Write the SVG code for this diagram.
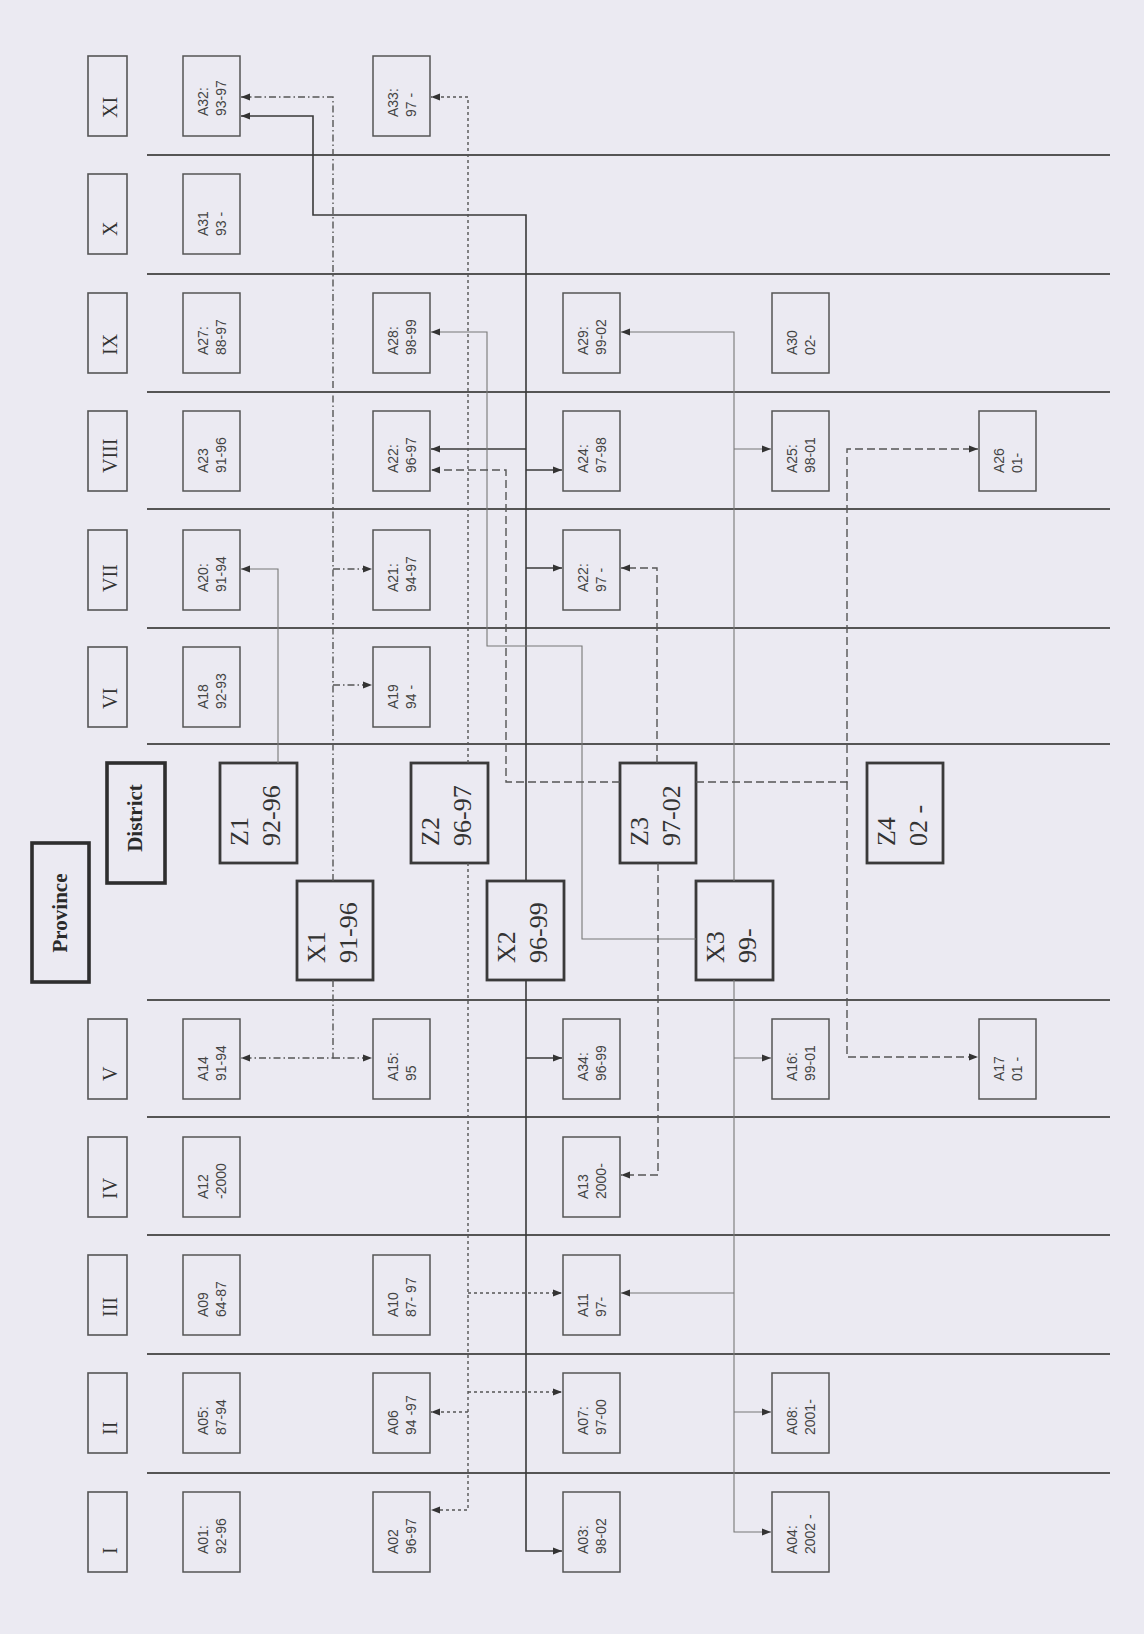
<svg xmlns="http://www.w3.org/2000/svg" width="1144" height="1634" viewBox="0 0 1144 1634">
<style>
.bg{fill:#ebeaf2}
.sep{stroke:#555;stroke-width:2;fill:none}
.hb{fill:none;stroke:#555;stroke-width:1.6}
.ab{fill:none;stroke:#555;stroke-width:1.5}
.big{fill:none;stroke:#3a3a3a;stroke-width:2.8}
.lvl{fill:none;stroke:#2e2e2e;stroke-width:3.6}
.ht{font-family:"Liberation Serif",serif;font-size:20px;fill:#333}
.at{font-family:"Liberation Sans",sans-serif;font-size:14px;fill:#444}
.bt{font-family:"Liberation Serif",serif;font-size:26px;fill:#333}
.lt{font-family:"Liberation Serif",serif;font-size:21px;font-weight:bold;fill:#2a2a2a;text-anchor:middle}
.solid{fill:none;stroke:#3a3a3a;stroke-width:1.6;marker-end:url(#ah)}
.thin{fill:none;stroke:#777;stroke-width:1.1;marker-end:url(#ah)}
.dd{fill:none;stroke:#555;stroke-width:1.4;stroke-dasharray:7 3 1.5 3;marker-end:url(#ah)}
.dot{fill:none;stroke:#555;stroke-width:1.4;stroke-dasharray:3 3;marker-end:url(#ah)}
.dash{fill:none;stroke:#555;stroke-width:1.4;stroke-dasharray:8 4;marker-end:url(#ah)}
</style>
<defs>
<marker id="ah" viewBox="0 0 10 10" refX="10" refY="5" markerWidth="9" markerHeight="9" markerUnits="userSpaceOnUse" orient="auto">
<path d="M0,1 L10,5 L0,9 z" fill="#333"/>
</marker>
</defs>
<rect class="bg" x="0" y="0" width="1144" height="1634"/>

<g id="separators">
<path class="sep" d="M147,155H1110M147,274H1110M147,392H1110M147,509H1110M147,628H1110M147,744H1110M147,1000H1110M147,1117H1110M147,1235H1110M147,1354H1110M147,1473H1110"/>
</g>

<g id="headers">
<g id="h-XI"><rect class="hb" x="88" y="56" width="39" height="80"/><text class="ht" transform="translate(117,118) rotate(-90)">XI</text></g>
<g id="h-X"><rect class="hb" x="88" y="174" width="39" height="80"/><text class="ht" transform="translate(117,236) rotate(-90)">X</text></g>
<g id="h-IX"><rect class="hb" x="88" y="293" width="39" height="80"/><text class="ht" transform="translate(117,355) rotate(-90)">IX</text></g>
<g id="h-VIII"><rect class="hb" x="88" y="411" width="39" height="80"/><text class="ht" transform="translate(117,473) rotate(-90)">VIII</text></g>
<g id="h-VII"><rect class="hb" x="88" y="530" width="39" height="80"/><text class="ht" transform="translate(117,592) rotate(-90)">VII</text></g>
<g id="h-VI"><rect class="hb" x="88" y="647" width="39" height="80"/><text class="ht" transform="translate(117,709) rotate(-90)">VI</text></g>
<g id="h-V"><rect class="hb" x="88" y="1019" width="39" height="80"/><text class="ht" transform="translate(117,1081) rotate(-90)">V</text></g>
<g id="h-IV"><rect class="hb" x="88" y="1137" width="39" height="80"/><text class="ht" transform="translate(117,1199) rotate(-90)">IV</text></g>
<g id="h-III"><rect class="hb" x="88" y="1255" width="39" height="80"/><text class="ht" transform="translate(117,1317) rotate(-90)">III</text></g>
<g id="h-II"><rect class="hb" x="88" y="1373" width="39" height="80"/><text class="ht" transform="translate(117,1435) rotate(-90)">II</text></g>
<g id="h-I"><rect class="hb" x="88" y="1492" width="39" height="80"/><text class="ht" transform="translate(117,1554) rotate(-90)">I</text></g>
</g>

<g id="levels">
<g id="province"><rect class="lvl" x="32" y="843" width="57" height="139"/><text class="lt" transform="translate(67,913) rotate(-90)">Province</text></g>
<g id="district"><rect class="lvl" x="107" y="763" width="58" height="120"/><text class="lt" transform="translate(142,818) rotate(-90)">District</text></g>
</g>

<g id="A32"><rect class="ab" x="183" y="56" width="57" height="80"/><text class="at" transform="translate(208,116) rotate(-90)">A32:</text><text class="at" transform="translate(226,116) rotate(-90)">93-97</text></g>
<g id="A33"><rect class="ab" x="373" y="56" width="57" height="80"/><text class="at" transform="translate(398,117) rotate(-90)">A33:</text><text class="at" transform="translate(416,117) rotate(-90)">97 -</text></g>
<g id="A31"><rect class="ab" x="183" y="174" width="57" height="80"/><text class="at" transform="translate(208,236) rotate(-90)">A31</text><text class="at" transform="translate(226,236) rotate(-90)">93 -</text></g>
<g id="A27"><rect class="ab" x="183" y="293" width="57" height="80"/><text class="at" transform="translate(208,355) rotate(-90)">A27:</text><text class="at" transform="translate(226,355) rotate(-90)">88-97</text></g>
<g id="A28"><rect class="ab" x="373" y="293" width="57" height="80"/><text class="at" transform="translate(398,355) rotate(-90)">A28:</text><text class="at" transform="translate(416,355) rotate(-90)">98-99</text></g>
<g id="A29"><rect class="ab" x="563" y="293" width="57" height="80"/><text class="at" transform="translate(588,355) rotate(-90)">A29:</text><text class="at" transform="translate(606,355) rotate(-90)">99-02</text></g>
<g id="A30"><rect class="ab" x="772" y="293" width="57" height="80"/><text class="at" transform="translate(797,355) rotate(-90)">A30</text><text class="at" transform="translate(815,355) rotate(-90)">02-</text></g>
<g id="A23"><rect class="ab" x="183" y="411" width="57" height="80"/><text class="at" transform="translate(208,473) rotate(-90)">A23</text><text class="at" transform="translate(226,473) rotate(-90)">91-96</text></g>
<g id="A22a"><rect class="ab" x="373" y="411" width="57" height="80"/><text class="at" transform="translate(398,473) rotate(-90)">A22:</text><text class="at" transform="translate(416,473) rotate(-90)">96-97</text></g>
<g id="A24"><rect class="ab" x="563" y="411" width="57" height="80"/><text class="at" transform="translate(588,473) rotate(-90)">A24:</text><text class="at" transform="translate(606,473) rotate(-90)">97-98</text></g>
<g id="A25"><rect class="ab" x="772" y="411" width="57" height="80"/><text class="at" transform="translate(797,473) rotate(-90)">A25:</text><text class="at" transform="translate(815,473) rotate(-90)">98-01</text></g>
<g id="A26"><rect class="ab" x="979" y="411" width="57" height="80"/><text class="at" transform="translate(1004,473) rotate(-90)">A26</text><text class="at" transform="translate(1022,473) rotate(-90)">01-</text></g>
<g id="A20"><rect class="ab" x="183" y="530" width="57" height="80"/><text class="at" transform="translate(208,592) rotate(-90)">A20:</text><text class="at" transform="translate(226,592) rotate(-90)">91-94</text></g>
<g id="A21"><rect class="ab" x="373" y="530" width="57" height="80"/><text class="at" transform="translate(398,592) rotate(-90)">A21:</text><text class="at" transform="translate(416,592) rotate(-90)">94-97</text></g>
<g id="A22b"><rect class="ab" x="563" y="530" width="57" height="80"/><text class="at" transform="translate(588,592) rotate(-90)">A22:</text><text class="at" transform="translate(606,592) rotate(-90)">97 -</text></g>
<g id="A18"><rect class="ab" x="183" y="647" width="57" height="80"/><text class="at" transform="translate(208,709) rotate(-90)">A18</text><text class="at" transform="translate(226,709) rotate(-90)">92-93</text></g>
<g id="A19"><rect class="ab" x="373" y="647" width="57" height="80"/><text class="at" transform="translate(398,709) rotate(-90)">A19</text><text class="at" transform="translate(416,709) rotate(-90)">94 -</text></g>

<g id="Z1"><rect class="big" x="220" y="763" width="77" height="100"/><text class="bt" transform="translate(248,846) rotate(-90)">Z1</text><text class="bt" transform="translate(280,846) rotate(-90)">92-96</text></g>
<g id="Z2"><rect class="big" x="411" y="763" width="77" height="100"/><text class="bt" transform="translate(439,846) rotate(-90)">Z2</text><text class="bt" transform="translate(471,846) rotate(-90)">96-97</text></g>
<g id="Z3"><rect class="big" x="620" y="763" width="76" height="100"/><text class="bt" transform="translate(648,846) rotate(-90)">Z3</text><text class="bt" transform="translate(680,846) rotate(-90)">97-02</text></g>
<g id="Z4"><rect class="big" x="867" y="763" width="76" height="100"/><text class="bt" transform="translate(895,846) rotate(-90)">Z4</text><text class="bt" transform="translate(927,846) rotate(-90)">02 -</text></g>
<g id="X1"><rect class="big" x="297" y="881" width="76" height="99"/><text class="bt" transform="translate(325,963) rotate(-90)">X1</text><text class="bt" transform="translate(357,963) rotate(-90)">91-96</text></g>
<g id="X2"><rect class="big" x="487" y="881" width="77" height="99"/><text class="bt" transform="translate(515,963) rotate(-90)">X2</text><text class="bt" transform="translate(547,963) rotate(-90)">96-99</text></g>
<g id="X3"><rect class="big" x="696" y="881" width="77" height="99"/><text class="bt" transform="translate(724,963) rotate(-90)">X3</text><text class="bt" transform="translate(756,963) rotate(-90)">99-</text></g>

<g id="A14"><rect class="ab" x="183" y="1019" width="57" height="80"/><text class="at" transform="translate(208,1081) rotate(-90)">A14</text><text class="at" transform="translate(226,1081) rotate(-90)">91-94</text></g>
<g id="A15"><rect class="ab" x="373" y="1019" width="57" height="80"/><text class="at" transform="translate(398,1081) rotate(-90)">A15:</text><text class="at" transform="translate(416,1081) rotate(-90)">95</text></g>
<g id="A34"><rect class="ab" x="563" y="1019" width="57" height="80"/><text class="at" transform="translate(588,1081) rotate(-90)">A34:</text><text class="at" transform="translate(606,1081) rotate(-90)">96-99</text></g>
<g id="A16"><rect class="ab" x="772" y="1019" width="57" height="80"/><text class="at" transform="translate(797,1081) rotate(-90)">A16:</text><text class="at" transform="translate(815,1081) rotate(-90)">99-01</text></g>
<g id="A17"><rect class="ab" x="979" y="1019" width="57" height="80"/><text class="at" transform="translate(1004,1081) rotate(-90)">A17</text><text class="at" transform="translate(1022,1081) rotate(-90)">01 -</text></g>
<g id="A12"><rect class="ab" x="183" y="1137" width="57" height="80"/><text class="at" transform="translate(208,1199) rotate(-90)">A12</text><text class="at" transform="translate(226,1199) rotate(-90)">-2000</text></g>
<g id="A13"><rect class="ab" x="563" y="1137" width="57" height="80"/><text class="at" transform="translate(588,1199) rotate(-90)">A13</text><text class="at" transform="translate(606,1199) rotate(-90)">2000-</text></g>
<g id="A09"><rect class="ab" x="183" y="1255" width="57" height="80"/><text class="at" transform="translate(208,1317) rotate(-90)">A09</text><text class="at" transform="translate(226,1317) rotate(-90)">64-87</text></g>
<g id="A10"><rect class="ab" x="373" y="1255" width="57" height="80"/><text class="at" transform="translate(398,1317) rotate(-90)">A10</text><text class="at" transform="translate(416,1317) rotate(-90)">87- 97</text></g>
<g id="A11"><rect class="ab" x="563" y="1255" width="57" height="80"/><text class="at" transform="translate(588,1317) rotate(-90)">A11</text><text class="at" transform="translate(606,1317) rotate(-90)">97-</text></g>
<g id="A05"><rect class="ab" x="183" y="1373" width="57" height="80"/><text class="at" transform="translate(208,1435) rotate(-90)">A05:</text><text class="at" transform="translate(226,1435) rotate(-90)">87-94</text></g>
<g id="A06"><rect class="ab" x="373" y="1373" width="57" height="80"/><text class="at" transform="translate(398,1435) rotate(-90)">A06</text><text class="at" transform="translate(416,1435) rotate(-90)">94 -97</text></g>
<g id="A07"><rect class="ab" x="563" y="1373" width="57" height="80"/><text class="at" transform="translate(588,1435) rotate(-90)">A07:</text><text class="at" transform="translate(606,1435) rotate(-90)">97-00</text></g>
<g id="A08"><rect class="ab" x="772" y="1373" width="57" height="80"/><text class="at" transform="translate(797,1435) rotate(-90)">A08:</text><text class="at" transform="translate(815,1435) rotate(-90)">2001-</text></g>
<g id="A01"><rect class="ab" x="183" y="1492" width="57" height="80"/><text class="at" transform="translate(208,1554) rotate(-90)">A01:</text><text class="at" transform="translate(226,1554) rotate(-90)">92-96</text></g>
<g id="A02"><rect class="ab" x="373" y="1492" width="57" height="80"/><text class="at" transform="translate(398,1554) rotate(-90)">A02</text><text class="at" transform="translate(416,1554) rotate(-90)">96-97</text></g>
<g id="A03"><rect class="ab" x="563" y="1492" width="57" height="80"/><text class="at" transform="translate(588,1554) rotate(-90)">A03:</text><text class="at" transform="translate(606,1554) rotate(-90)">98-02</text></g>
<g id="A04"><rect class="ab" x="772" y="1492" width="57" height="80"/><text class="at" transform="translate(797,1554) rotate(-90)">A04:</text><text class="at" transform="translate(815,1554) rotate(-90)">2002 -</text></g>

<g id="connectors">
<path class="solid" d="M526,881V215H313V116H241"/>
<path class="solid" d="M526,449H431"/>
<path class="solid" d="M526,470H562"/>
<path class="solid" d="M526,568H562"/>
<path class="solid" d="M526,980V1551H562"/>
<path class="solid" d="M526,1058H562"/>

<path class="dd" d="M333,881V97H241"/>
<path class="dd" d="M333,569H372"/>
<path class="dd" d="M333,685H372"/>
<path class="dd" d="M333,980V1058H241"/>
<path class="dd" d="M333,1058H372"/>

<path class="dot" d="M468,763V97H431"/>
<path class="dot" d="M468,863V1510H431"/>
<path class="dot" d="M468,1293H562"/>
<path class="dot" d="M468,1392H562"/>
<path class="dot" d="M468,1412H431"/>

<path class="thin" d="M278,763V569H241"/>
<path class="thin" d="M696,939H582V646H487V332H431"/>
<path class="thin" d="M734,881V332H621"/>
<path class="thin" d="M734,449H771"/>
<path class="thin" d="M734,980V1532H771"/>
<path class="thin" d="M734,1058H771"/>
<path class="thin" d="M734,1293H621"/>
<path class="thin" d="M734,1412H771"/>

<path class="dash" d="M620,782H506V470H431"/>
<path class="dash" d="M657,763V568H621"/>
<path class="dash" d="M658,863V1175H621"/>
<path class="dash" d="M696,782H847V449H978"/>
<path class="dash" d="M847,782V1057H978"/>
</g>
</svg>
